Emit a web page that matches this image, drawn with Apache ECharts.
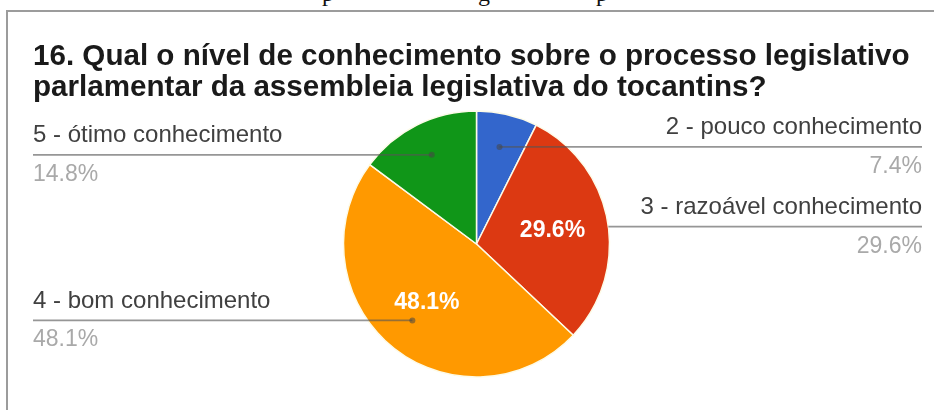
<!DOCTYPE html>
<html>
<head>
<meta charset="utf-8">
<script src="https://cdn.jsdelivr.net/npm/echarts@6/dist/echarts.min.js"></script>
<style>
  html, body { margin: 0; padding: 0; background: #fff; overflow: hidden; }
  #chart { position: absolute; left: 0; top: 0; width: 934px; height: 410px; }
  #frame { position: absolute; left: 6px; top: 10px; width: 940px; height: 420px;
           border-left: 2px solid #9c9c9c; border-top: 2px solid #9c9c9c; pointer-events: none; }
  .cut { position: absolute; top: -19px; font-family: "Liberation Serif", serif; font-size: 24px;
         line-height: 24px; color: #111; }
</style>
</head>
<body>
<!-- tail of the preceding line of the page, cut by the frame -->
<span class="cut" style="left:322px">p</span>
<span class="cut" style="left:478px">g</span>
<span class="cut" style="left:596px">p</span>
<div id="frame"></div>
<div id="chart"></div>
<script>
// Survey question and answers
const titleLines = [
  '16. Qual o nível de conhecimento sobre o processo legislativo',
  'parlamentar da assembleia legislativa do tocantins?'
];
const categories = [
  '2 - pouco conhecimento',
  '3 - razoável conhecimento',
  '4 - bom conhecimento',
  '5 - ótimo conhecimento'
];
const percents = [7.4, 29.6, 48.1, 14.8];
const sliceColors = ['#3366cc', '#dc3912', '#ff9900', '#109618'];

// Geometry of the pie and the callout layout
const CX = 476.5, CY = 244, R = 133;
const INSIDE_MIN = 20;        // slices at least this big print their share inside
const INSIDE_R = 0.58;        // radial position of the inside value
const ANCHOR_R = 0.75;        // radial position of the callout dot
const LEFT_X = 33, RIGHT_X = 922, ROW = 39;
const FONT = '"Liberation Sans", Arial, sans-serif';

const chart = echarts.init(document.getElementById('chart'), null, { renderer: 'canvas' });

// Mid angle (radians, screen coords) of a slice
function sliceGeom(idx) {
  try {
    const lay = chart.getModel().getSeriesByIndex(0).getData().getItemLayout(idx);
    if (lay && lay.startAngle != null) {
      return { cx: lay.cx, cy: lay.cy, r: lay.r, mid: (lay.startAngle + lay.endAngle) / 2 };
    }
  } catch (e) {}
  const total = percents.reduce((a, b) => a + b, 0);
  let cum = 0;
  for (let k = 0; k < idx; k++) cum += percents[k];
  return { cx: CX, cy: CY, r: R, mid: -Math.PI / 2 + 2 * Math.PI * (cum + percents[idx] / 2) / total };
}

function callout(idx) {
  const g = sliceGeom(idx);
  const ax = g.cx + g.r * ANCHOR_R * Math.cos(g.mid);
  const ay = g.cy + g.r * ANCHOR_R * Math.sin(g.mid);
  const right = ax >= g.cx;
  let sx = ax, dot = true;
  if (percents[idx] >= INSIDE_MIN) {
    const iy = g.cy + g.r * INSIDE_R * Math.sin(g.mid);
    if (Math.abs(iy - ay) < 14) {
      // the value sits on the leader's row: start the leader at the rim instead
      const dy = ay - g.cy;
      const half = Math.sqrt(Math.max(0, g.r * g.r - dy * dy));
      sx = right ? g.cx + half : g.cx - half;
      dot = false;
    }
  }
  return { ax, ay, sx, right, dot };
}

const pieData = categories.map((name, i) => ({
  name, value: percents[i], itemStyle: { color: sliceColors[i] }
}));

const option = {
  animation: false,
  backgroundColor: 'rgba(0,0,0,0)',
  title: {
    text: titleLines.join('\n'),
    left: LEFT_X,
    top: 41,
    padding: 0,
    textStyle: { fontFamily: FONT, fontSize: 29.6, fontWeight: 'bold', color: '#1a1a1a', lineHeight: 31 }
  },
  series: [
    {
      type: 'pie',
      center: [CX, CY],
      radius: R,
      startAngle: 90,
      clockwise: true,
      avoidLabelOverlap: false,
      silent: true,
      data: pieData,
      itemStyle: { borderColor: '#fdfbe8', borderWidth: 1.5 },
      label: {
        position: 'inside',
        formatter: p => (p.value >= INSIDE_MIN ? p.value.toFixed(1) + '%' : ''),
        color: '#fff',
        fontFamily: FONT,
        fontSize: 23,
        fontWeight: 'bold'
      },
      labelLine: { show: false },
      labelLayout: params => {
        const g = sliceGeom(params.dataIndex);
        return {
          x: g.cx + g.r * INSIDE_R * Math.cos(g.mid),
          y: g.cy + g.r * INSIDE_R * Math.sin(g.mid),
          align: 'center',
          verticalAlign: 'middle'
        };
      }
    },
    {
      // transparent twin carrying the outside callouts
      type: 'pie',
      center: [CX, CY],
      radius: R,
      startAngle: 90,
      clockwise: true,
      avoidLabelOverlap: false,
      silent: true,
      z: 3,
      data: pieData.map(d => ({ name: d.name, value: d.value })),
      itemStyle: { color: 'rgba(0,0,0,0)', borderWidth: 0 },
      label: {
        position: 'outside',
        formatter: p => '{n|' + p.name + '}\n{p|' + p.value.toFixed(1) + '%}',
        rich: {
          n: { fontFamily: FONT, fontSize: 24, lineHeight: ROW, color: '#404040' },
          p: { fontFamily: FONT, fontSize: 23, lineHeight: ROW, color: '#a9a9a9' }
        }
      },
      labelLine: { show: true, lineStyle: { color: 'rgba(85,85,85,0.62)', width: 1.8 } },
      labelLayout: params => {
        const c = callout(params.dataIndex);
        const ex = c.right ? RIGHT_X : LEFT_X;
        return {
          x: ex,
          y: c.ay - ROW,
          align: c.right ? 'right' : 'left',
          verticalAlign: 'top',
          labelLinePoints: [[c.sx, c.ay], [c.sx, c.ay], [ex, c.ay]]
        };
      }
    }
  ]
};

chart.setOption(option);

// Dots at the inner end of each leader
chart.setOption({
  graphic: categories.map((_, i) => {
    const c = callout(i);
    return {
      type: 'circle',
      silent: true,
      z: 100,
      invisible: !c.dot,
      shape: { cx: c.ax, cy: c.ay, r: 3 },
      style: { fill: 'rgba(70,70,70,0.55)' }
    };
  })
});
</script>
</body>
</html>
